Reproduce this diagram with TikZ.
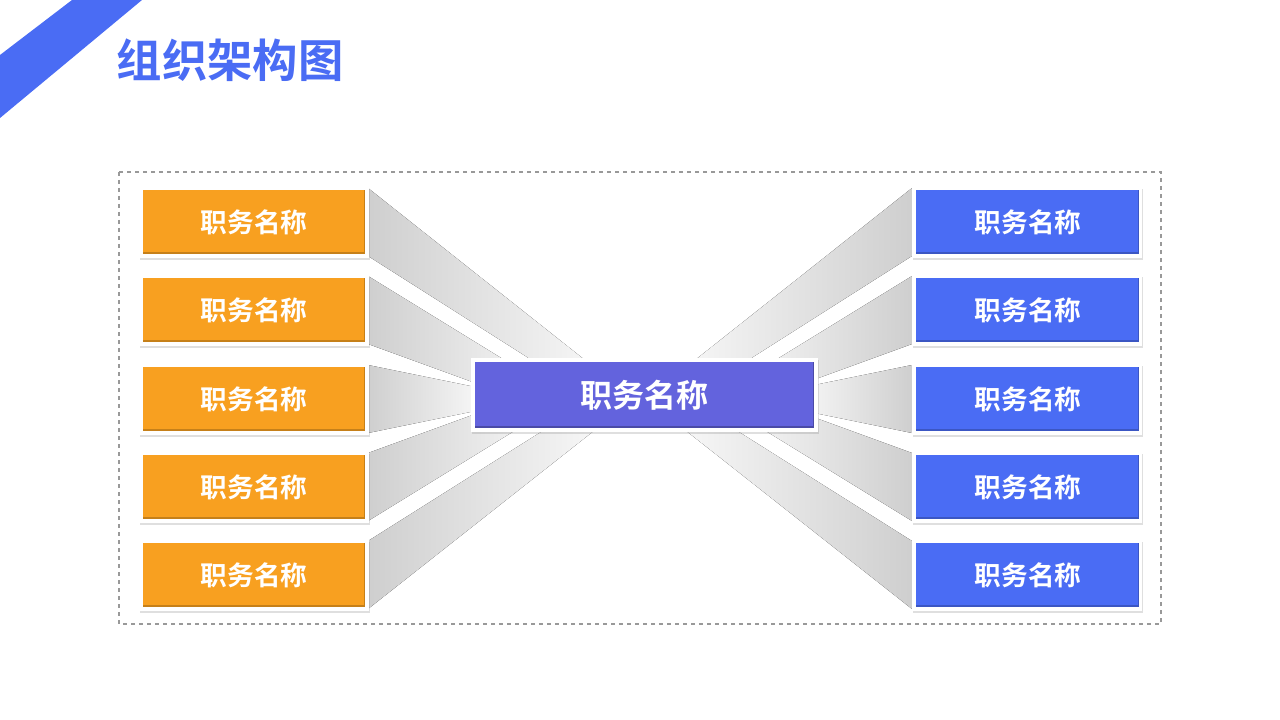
\documentclass[tikz,border=0pt]{standalone}
\usepackage{fontspec}
\setmainfont{Noto Sans CJK SC}
\newfontfamily\cjkb{Noto Sans CJK SC Bold}
\usetikzlibrary{shadows}
\definecolor{tblue}{HTML}{4A6CF4}
\definecolor{orng}{HTML}{F8A020}
\definecolor{mid}{HTML}{6363DD}
\tikzset{
  frame/.style={fill=white,draw=none,drop shadow={shadow xshift=0.6pt,shadow yshift=-1.5pt,opacity=0.25}},
  fan/.style={draw=none,shade,shading=axis,shading angle=90,left color=gray!38,right color=gray!6},
  fanr/.style={draw=none,shade,shading=axis,left color=gray!6,right color=gray!38},
  lab/.style={text=white,font=\cjkb\fontsize{20}{22}\selectfont}
}
\begin{document}
\begin{tikzpicture}[x=0.75pt,y=-0.75pt]
\useasboundingbox (0,0) rectangle (1280,720);
\fill[tblue] (72,0) -- (142,0) -- (0,118) -- (0,55) -- cycle;
\node[anchor=west,text=tblue,font=\cjkb\fontsize{34}{36}\selectfont] (title) at (112,60) {组织架构图};
\draw[gray!80,dashed,line width=0.9pt] (119,172) rectangle (1161,624);
% fans
\foreach \y/\ax/\ay/\bx/\by in {222/600/372/560/378, 310/545/385/500/392, 399/480/388/480/410, 487/500/405/545/412, 575/560/420/600/426}{
  \fill[fan] (368,\y-34) -- (\ax,\ay) -- (\bx,\by) -- (368,\y+34) -- cycle;
  \fill[fanr] (1280-368,\y-34) -- (1280-\ax,\ay) -- (1280-\bx,\by) -- (1280-368,\y+34) -- cycle;
}
% center
\fill[frame] (471,358) rectangle (818,432);
\fill[mid!75!black] (475,362) rectangle (814,428);
\fill[mid] (475,362) rectangle (813,426);
\node[lab,font=\cjkb\fontsize{24}{26}\selectfont] (c) at (644,395) {职务名称};
\foreach \y [count=\i] in {222,310,399,487,575}{
  \fill[frame] (139,\y-35) rectangle (369,\y+36);
  \fill[orng!80!black] (143,\y-32) rectangle (365,\y+32);
  \fill[orng] (143,\y-32) rectangle (364,\y+30);
  \node[lab] (l\i) at (254,\y) {职务名称};
  \fill[frame] (912,\y-35) rectangle (1142,\y+36);
  \fill[tblue!80!black] (916,\y-32) rectangle (1139,\y+32);
  \fill[tblue] (916,\y-32) rectangle (1138,\y+30);
  \node[lab] (r\i) at (1028,\y) {职务名称};
}
\end{tikzpicture}
\end{document}
